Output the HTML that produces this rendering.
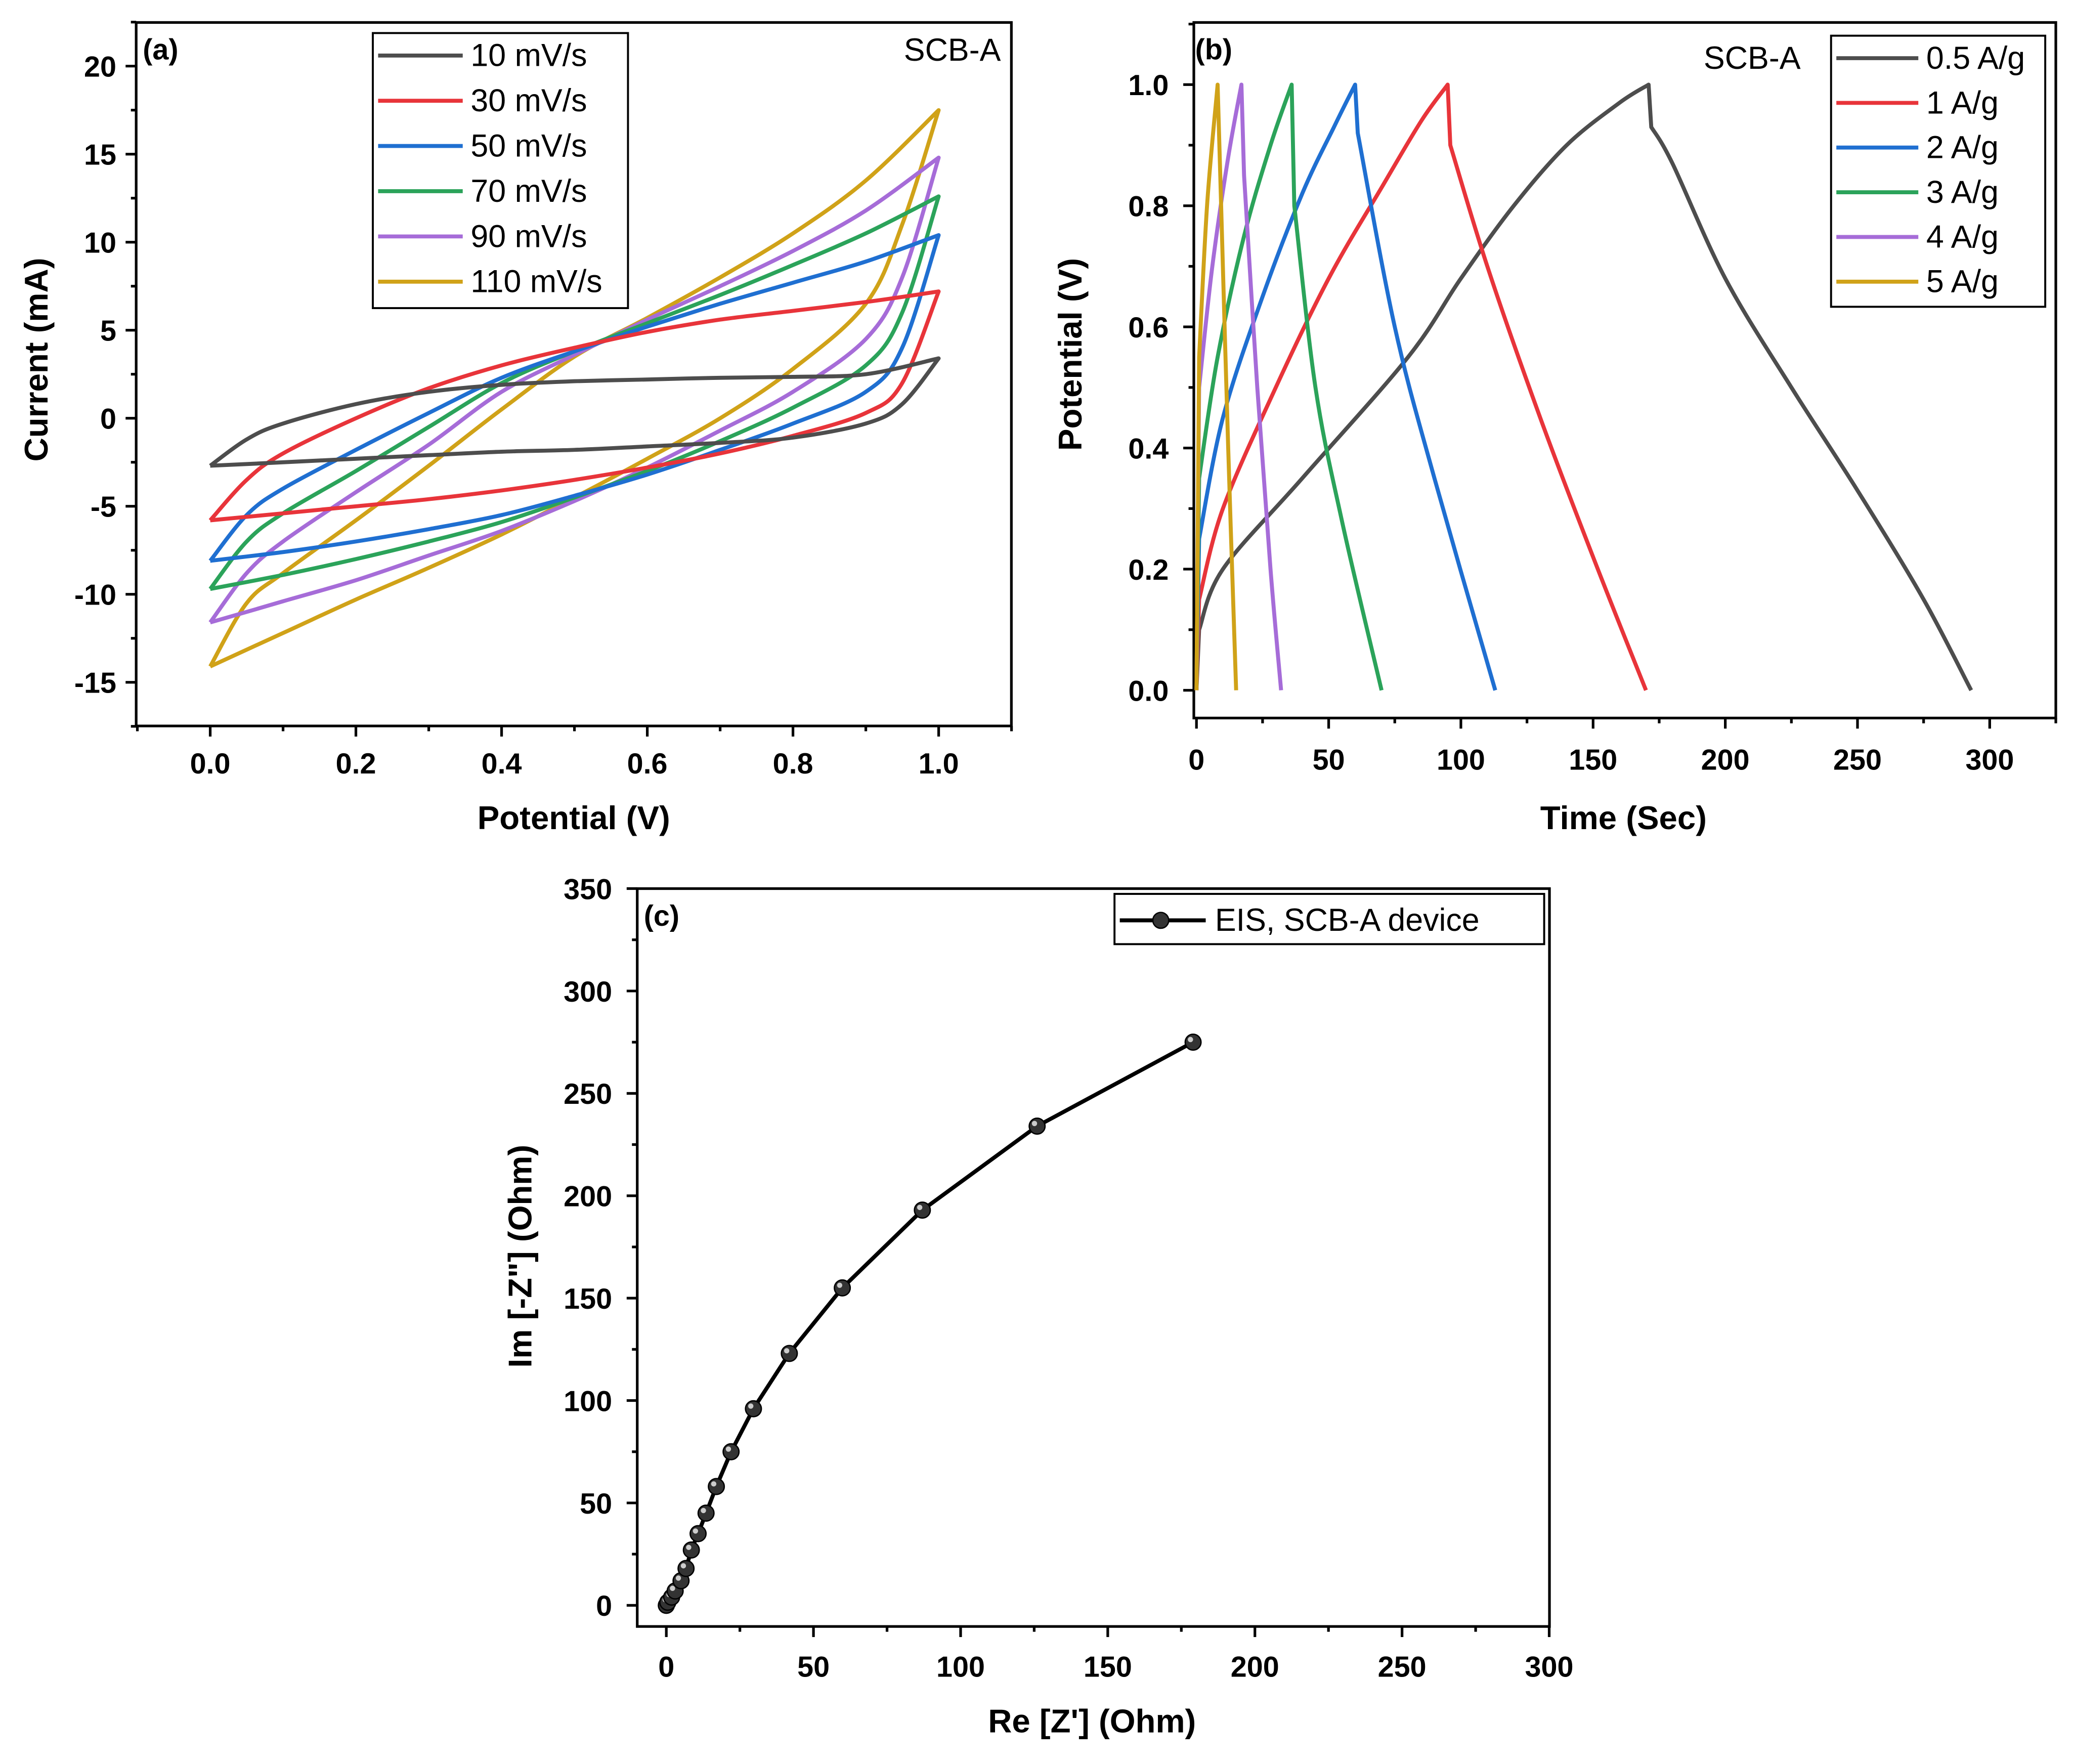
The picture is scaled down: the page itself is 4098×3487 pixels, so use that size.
<!DOCTYPE html>
<html><head><meta charset="utf-8"><style>
html,body{margin:0;padding:0;background:#fff}
svg{display:block}
text{font-family:"Liberation Sans",Arial,sans-serif}
.tk{font-weight:bold;font-size:22px}
.at{font-weight:bold;font-size:25px}
.lg{font-size:24px}
</style></head><body>
<svg id="fig" width="4098" height="3487" viewBox="0 0 1568 1334" preserveAspectRatio="none" xmlns="http://www.w3.org/2000/svg">
<rect width="1568" height="1334" fill="#fff"/>
</svg>
<script>
// ---------- Panel (a) CV data ----------
const cvRates = ["10 mV/s","30 mV/s","50 mV/s","70 mV/s","90 mV/s","110 mV/s"];
const cvColors = ["#4d4d4d","#e8343a","#1f6fd1","#2ba35a","#a66cd8","#d0a218"];
const cvUpperV = [0,0.05,0.1,0.2,0.3,0.4,0.5,0.6,0.7,0.8,0.9,1.0];
const cvUpper10 = [-2.7,-1.2,-0.3,0.8,1.5,1.9,2.1,2.2,2.3,2.35,2.5,3.4];
const cvUpper30 = [-5.8,-3.5,-2,0,1.7,3,4,4.9,5.6,6.1,6.6,7.2];
const cvUpper50 = [-8.1,-5.5,-4,-1.8,0.3,2.3,3.8,5.2,6.5,7.7,8.9,10.4];
const cvUpper70 = [-9.7,-7,-5.4,-3,-0.5,2,3.8,5.4,7,8.7,10.5,12.6];
const cvUpper90 = [-11.6,-8.8,-7,-4.2,-1.5,1.5,3.6,5.6,7.5,9.5,11.8,14.8];
const cvUpper110 = [-14.1,-10.5,-8.8,-5.8,-2.7,0.5,3.5,5.7,8,10.5,13.5,17.5];
const cvLowerV = [1.0,0.95,0.9,0.8,0.7,0.6,0.5,0.4,0.3,0.2,0.1,0];
const cvLower10 = [3.4,0.8,-0.3,-1.1,-1.4,-1.6,-1.8,-1.9,-2.1,-2.3,-2.5,-2.7];
const cvLower30 = [7.2,2,0.3,-1,-2,-2.8,-3.5,-4.1,-4.6,-5,-5.4,-5.8];
const cvLower50 = [10.4,4,1.5,-0.3,-1.8,-3.2,-4.4,-5.5,-6.3,-7,-7.6,-8.1];
const cvLower70 = [12.6,6,3,0.6,-1.3,-3,-4.5,-5.9,-7,-8,-8.9,-9.7];
const cvLower90 = [14.8,8,4.5,1.5,-0.7,-2.8,-4.7,-6.4,-7.8,-9.2,-10.4,-11.6];
const cvLower110 = [17.5,11,6.5,2.8,0,-2.3,-4.5,-6.6,-8.5,-10.3,-12.2,-14.1];
const cvXTicks = ["0.0","0.2","0.4","0.6","0.8","1.0"];
const cvYTicks = ["20","15","10","5","0","-5","-10","-15"];

// ---------- Panel (b) GCD data ----------
const gcdLabels = ["0.5 A/g","1 A/g","2 A/g","3 A/g","4 A/g","5 A/g"];
const gcdT05 = [0,1,10,40,80,100,120,140,160,171,172,180,200,225,250,275,293];
const gcdV05 = [0,0.1,0.2,0.35,0.55,0.68,0.8,0.9,0.97,1.0,0.93,0.87,0.68,0.5,0.33,0.15,0];
const gcdT1 = [0,1,10,30,50,70,85,95,96,110,130,150,170];
const gcdV1 = [0,0.15,0.3,0.5,0.68,0.83,0.94,1.0,0.9,0.7,0.45,0.22,0];
const gcdT2 = [0,1,10,25,40,52,60,61,75,90,113];
const gcdV2 = [0,0.25,0.45,0.65,0.82,0.93,1.0,0.92,0.6,0.35,0];
const gcdT3 = [0,1,8,18,28,36,37,45,55,70];
const gcdV3 = [0,0.35,0.55,0.75,0.9,1.0,0.8,0.5,0.28,0];
const gcdT4 = [0,1,6,12,17,18,23,28,32];
const gcdV4 = [0,0.5,0.7,0.88,1.0,0.85,0.5,0.2,0];
const gcdT5 = [0,1,4,8,9,12,15];
const gcdV5 = [0,0.55,0.8,1.0,0.85,0.4,0];
const gcdXTicks = ["0","50","100","150","200","250","300"];
const gcdYTicks = ["0.0","0.2","0.4","0.6","0.8","1.0"];

// ---------- Panel (c) EIS data ----------
const eisRe = [0,0.5,1.8,3,5,6.7,8.5,10.8,13.5,17,22,29.6,41.8,59.8,87,126,179];
const eisIm = [0,1.5,4,7,12,18,27,35,45,58,75,96,123,155,193,234,275];
const eisXTicks = ["0","50","100","150","200","250","300"];
const eisYTicks = ["0","50","100","150","200","250","300","350"];

const NS="http://www.w3.org/2000/svg";
const svg=document.getElementById('fig');
function mk(tag,attrs,parent){const e=document.createElementNS(NS,tag);for(const k in attrs)e.setAttribute(k,attrs[k]);(parent||svg).appendChild(e);return e;}
function txt(s,x,y,cls,anchor,parent){const t=mk('text',{x:x,y:y,class:cls,'text-anchor':anchor||'start'},parent);t.textContent=s;return t;}
function axesFrame(g,x0,y0,x1,y1){mk('rect',{x:x0,y:y0,width:x1-x0,height:y1-y0,fill:'none',stroke:'#000','stroke-width':2},g);}
function smooth(P){ // Catmull-Rom to bezier
  let d='M'+P[0][0].toFixed(1)+','+P[0][1].toFixed(1);
  for(let i=0;i<P.length-1;i++){
    const p0=P[Math.max(0,i-1)],p1=P[i],p2=P[i+1],p3=P[Math.min(P.length-1,i+2)];
    const c1=[p1[0]+(p2[0]-p0[0])/6,p1[1]+(p2[1]-p0[1])/6];
    const c2=[p2[0]-(p3[0]-p1[0])/6,p2[1]-(p3[1]-p1[1])/6];
    d+=' C'+c1[0].toFixed(1)+','+c1[1].toFixed(1)+' '+c2[0].toFixed(1)+','+c2[1].toFixed(1)+' '+p2[0].toFixed(1)+','+p2[1].toFixed(1);
  }
  return d;
}

// ===== Panel A =====
const gA=mk('g',{});


const ax=v=>159+v*551, ay=v=>50+(20-v)*13.314;
axesFrame(gA,103,17,765,549);
for(let v=-0.1;v<=1.1001;v+=0.1){const x=ax(v);const maj=Math.abs(Math.round(v*5)-v*5)<1e-6;mk('line',{x1:x,x2:x,y1:549,y2:549+(maj?8:4),stroke:'#000','stroke-width':2},gA);}
cvXTicks.forEach(s=>{const t=txt(s,ax(parseFloat(s)),585,'tk','middle',gA);});
for(let v=-17.5;v<=22.5;v+=2.5){const y=ay(v);const maj=v%5===0;mk('line',{x1:103,x2:103-(maj?8:4),y1:y,y2:y,stroke:'#000','stroke-width':2},gA);}
cvYTicks.forEach(s=>{const t=txt(s,88,ay(parseFloat(s))+8,'tk','end',gA);});
let t=txt('Potential (V)',434,627,'at','middle',gA);
t=txt('Current (mA)',0,0,'at','middle',gA);t.setAttribute('transform','translate(36,272) rotate(-90)');
t=txt('(a)',108,45,'tk','start',gA);
t=txt('SCB-A',757,46,'lg','end',gA);
const ups=[cvUpper10,cvUpper30,cvUpper50,cvUpper70,cvUpper90,cvUpper110];
const lows=[cvLower10,cvLower30,cvLower50,cvLower70,cvLower90,cvLower110];
for(let i=5;i>=0;i--){
  const up=cvUpperV.map((v,j)=>[ax(v),ay(ups[i][j])]);
  const lo=cvLowerV.map((v,j)=>[ax(v),ay(lows[i][j])]);
  const p=mk('path',{d:smooth(up)+' '+smooth(lo).replace(/^M/,'L'),fill:'none',stroke:cvColors[i],'stroke-width':3,'stroke-linejoin':'round'},gA);
  
  
}
const lgA=mk('g',{},gA);


mk('rect',{x:282,y:25,width:193,height:208,fill:'#fff',stroke:'#000','stroke-width':1.5},lgA);
cvRates.forEach((r,i)=>{const y=42+i*34.2;mk('line',{x1:286,x2:350,y1:y,y2:y,stroke:cvColors[i],'stroke-width':3},lgA);const e=txt(r,356,y+8,'lg','start',lgA);});

// ===== Panel B =====
const gB=mk('g',{});


const bx=v=>905+v*2.0, by=v=>522-v*458;
axesFrame(gB,903,17,1555,543);
for(let v=0;v<=325;v+=25){const x=bx(v);const maj=v%50===0;mk('line',{x1:x,x2:x,y1:543,y2:543+(maj?8:4),stroke:'#000','stroke-width':2},gB);}
gcdXTicks.forEach(s=>{const e=txt(s,bx(parseFloat(s)),582,'tk','middle',gB);});
for(let k=0;k<=11;k++){const v=k/10;const y=by(v);const maj=k%2===0;mk('line',{x1:903,x2:903-(maj?8:4),y1:y,y2:y,stroke:'#000','stroke-width':2},gB);}
gcdYTicks.forEach(s=>{const e=txt(s,884,by(parseFloat(s))+8,'tk','end',gB);});
t=txt('Time (Sec)',1228,627,'at','middle',gB);
t=txt('Potential (V)',0,0,'at','middle',gB);t.setAttribute('transform','translate(818,268) rotate(-90)');
t=txt('(b)',904,45,'tk','start',gB);
t=txt('SCB-A',1362,52,'lg','end',gB);
const gT=[gcdT05,gcdT1,gcdT2,gcdT3,gcdT4,gcdT5], gV=[gcdV05,gcdV1,gcdV2,gcdV3,gcdV4,gcdV5];
for(let i=0;i<6;i++){
  const P=gT[i].map((tt,j)=>[bx(tt),by(gV[i][j])]);
  let pk=0;gV[i].forEach((v,j)=>{if(v>gV[i][pk])pk=j;});
  const ch=P.slice(1,pk+1), dis=P.slice(pk+1);
  const d='M'+P[0][0].toFixed(1)+','+P[0][1].toFixed(1)+' '+smooth(ch).replace(/^M/,'L')+' '+smooth(dis).replace(/^M/,'L');
  const p=mk('path',{d:d,fill:'none',stroke:cvColors[i],'stroke-width':3,'stroke-linejoin':'round'},gB);
  
  
}
const lgB=mk('g',{},gB);


mk('rect',{x:1385,y:27,width:162,height:205,fill:'#fff',stroke:'#000','stroke-width':1.5},lgB);
gcdLabels.forEach((r,i)=>{const y=44+i*33.8;mk('line',{x1:1389,x2:1451,y1:y,y2:y,stroke:cvColors[i],'stroke-width':3},lgB);const e=txt(r,1457,y+8,'lg','start',lgB);});

// ===== Panel C =====
const gC=mk('g',{});


const cx=v=>504+v*2.226, cy=v=>1214-v*1.5486;
axesFrame(gC,482,672,1172,1230);
for(let v=0;v<=300;v+=25){const x=cx(v);const maj=v%50===0;mk('line',{x1:x,x2:x,y1:1230,y2:1230+(maj?8:4),stroke:'#000','stroke-width':2},gC);}
eisXTicks.forEach(s=>{const e=txt(s,cx(parseFloat(s)),1268,'tk','middle',gC);});
for(let v=0;v<=350;v+=25){const y=cy(v);const maj=v%50===0;mk('line',{x1:482,x2:482-(maj?8:4),y1:y,y2:y,stroke:'#000','stroke-width':2},gC);}
eisYTicks.forEach(s=>{const e=txt(s,463,cy(parseFloat(s))+8,'tk','end',gC);});
t=txt("Re [Z'] (Ohm)",826,1310,'at','middle',gC);
t=txt('Im [-Z"] (Ohm)',0,0,'at','middle',gC);t.setAttribute('transform','translate(402,950) rotate(-90)');
t=txt('(c)',487,700,'tk','start',gC);
const ep=eisRe.map((r,j)=>cx(r).toFixed(1)+','+cy(eisIm[j]).toFixed(1));
const el=mk('polyline',{points:ep.join(' '),fill:'none',stroke:'#000','stroke-width':3},gC);


eisRe.forEach((r,j)=>{
  const c=mk('circle',{cx:cx(r),cy:cy(eisIm[j]),r:6,fill:'#333',stroke:'#000','stroke-width':1},gC);
  
  
  mk('circle',{cx:cx(r)-2,cy:cy(eisIm[j])-2,r:2,fill:'#ccc'},gC);
});
const lgC=mk('g',{},gC);


mk('rect',{x:843,y:676,width:325,height:38,fill:'#fff',stroke:'#000','stroke-width':1.5},lgC);
mk('line',{x1:847,x2:912,y1:696,y2:696,stroke:'#000','stroke-width':3},lgC);
mk('circle',{cx:878,cy:696,r:6,fill:'#333',stroke:'#000'},lgC);
t=txt('EIS, SCB-A device',919,704,'lg','start',lgC);
</script>
</body></html>
